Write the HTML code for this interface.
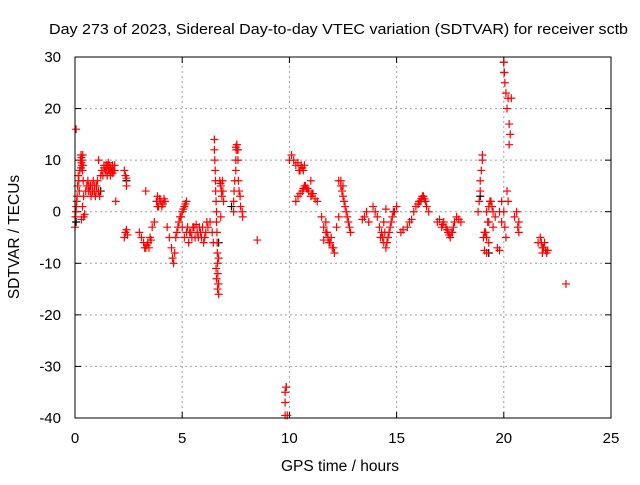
<!DOCTYPE html>
<html><head><meta charset="utf-8"><style>
body{margin:0;background:#fff}
svg text{font-family:"Liberation Sans",sans-serif;font-size:15px;fill:#000}
</style></head><body>
<svg id="chart" width="640" height="480" viewBox="0 0 640 480" xmlns="http://www.w3.org/2000/svg">
<rect width="640" height="480" fill="#fff"/>
<text x="49" y="34" textLength="579" lengthAdjust="spacingAndGlyphs">Day 273 of 2023, Sidereal Day-to-day VTEC variation (SDTVAR) for receiver sctb</text>
<text transform="translate(19,237) rotate(-90)" text-anchor="middle" style="font-size:15.5px">SDTVAR / TECUs</text>
<text x="340" y="471" text-anchor="middle" style="font-size:15.5px">GPS time / hours</text>
<g id="grid"></g>
<g id="ticks"></g>
<g id="marks"></g>
<rect x="75" y="57" width="536" height="361" fill="none" stroke="#000" stroke-width="1"/>
</svg>
<script>
const xTicks=[0,5,10,15,20,25];
const yTicks=[-40,-30,-20,-10,0,10,20,30];
const redX=[0,0.02,0.04,0.06,0.08,0.05,0.1,0.12,0.15,0.18,0.2,0.22,0.25,0.28,0.3,0.32,0.35,0.38,0.3,0.4,0.45,0.35,0.4,0.5,0.55,0.6,0.65,0.7,0.75,0.8,0.85,0.9,0.95,1.0,1.05,1.1,1.15,1.2,1.25,1.3,1.35,1.4,1.45,1.5,1.55,1.6,1.65,1.7,1.75,1.8,1.85,1.9,1.1,2.3,2.35,2.4,2.4,2.3,2.35,2.4,2.45,
3.0,3.1,3.2,3.3,3.4,3.5,3.6,3.7,3.3,3.8,3.85,3.9,4.0,4.1,4.2,
4.3,4.4,4.5,4.55,4.6,4.65,4.7,4.8,4.9,5.0,5.1,5.2,5.0,5.1,5.2,5.3,5.4,5.5,5.6,5.7,5.8,5.9,6.0,6.1,6.2,6.3,6.4,6.45,
6.5,6.5,6.52,6.54,6.55,6.56,6.58,6.6,6.6,6.62,6.63,6.64,6.65,6.66,6.68,6.7,6.75,6.8,6.85,6.9,6.8,6.7,
7.4,7.4,7.42,7.45,7.5,7.5,7.52,7.55,7.6,7.6,7.62,7.65,7.7,7.72,7.8,7.82,8.5,
9.8,9.8,9.85,9.9,9.8,
10.0,10.1,10.2,10.3,10.4,10.5,10.6,10.7,10.3,10.4,10.5,10.6,10.7,10.8,10.9,11.0,11.1,11.2,11.3,11.0,
11.5,11.6,11.7,11.8,11.9,12.0,12.1,11.6,11.7,12.3,12.4,12.5,12.6,12.7,12.8,12.85,12.2,12.3,
13.5,13.6,13.7,13.4,13.9,14.0,14.1,14.2,14.3,14.4,14.5,14.6,14.7,14.8,14.9,15.0,14.4,14.5,
15.2,15.3,15.5,15.6,15.7,15.8,15.9,16.0,16.1,16.2,16.3,16.4,16.5,
16.9,17.0,17.1,17.2,17.3,17.4,17.5,17.6,17.7,17.8,17.9,18.0,
18.8,18.85,18.9,18.9,18.95,19.0,19.0,19.1,19.2,19.3,19.1,19.2,19.3,19.2,19.3,19.4,19.5,19.6,19.5,
19.7,19.8,19.9,19.8,19.9,20.0,20.05,20.1,20.15,20.2,
20.0,20.02,20.05,20.1,20.15,20.2,20.25,20.3,20.25,20.35,
20.5,20.6,20.7,20.65,20.7,21.6,21.7,21.8,21.9,22.0,21.8,22.05,22.9,
0.3,0.33,0.36,0.28,0.38,1.35,1.45,1.55,1.65,1.75,1.85,1.5,1.6,0.62,0.72,0.82,0.92,1.02,
3.85,3.95,4.05,4.15,3.25,3.35,3.45,3.55,
5.25,5.35,5.45,5.55,5.65,5.75,5.85,5.95,6.05,6.15,4.75,4.85,4.95,5.05,5.15,
6.78,6.83,6.88,6.93,6.6,6.65,6.7,6.58,7.5,7.55,7.58,
10.45,10.55,10.65,10.65,10.75,10.85,11.05,11.75,11.85,11.95,12.05,
12.45,12.55,12.65,12.75,12.4,12.5,
14.25,14.35,14.45,14.55,14.65,14.75,14.85,16.05,16.15,16.25,16.35,
17.15,17.35,17.45,17.55,17.65,19.05,19.15,19.25,19.35,19.45,21.75,21.85,21.95];
const redY=[-3,-1,0,1,2,16,3,5,7,6,4,8,10,11,10.5,9,8,6,-1.5,-1,-0.5,1,3,4,5,6,5,4,3,5,6,4,3,5,6,4,3,7,8,7,9,8,9,7,8,9,7,8,9,8,9,2,10,8,7,5,6.5,-5,-4,-3.5,-4.5,
-4,-5,-6,-7,-6,-5,-3,-2,4,2,3,1,2,1.5,2,
-3,-5,-7,-9,-10,-8,-5,-3,-1,0,1,2,-3,-5,-4,-6,-4,-3,-5,-4,-3,-5,-6,-4,-3,-2,-4,-6,
14,12,10,8,6,4,2,0,-2,-4,-6,-8,-10,-12,-14,-16,6,5,3,4,-1,-9,
0,2,4,6,8,10,12,13,12,10,6,4,3,1,0,-1,-5.5,
-35,-37,-34,-39.5,-39.5,
10,11,10,9,9.5,8,8.5,9,2,3,3.5,4,5,4.5,4,3,3.5,2.5,2,6,
-1,-3,-4,-5,-6,-7,-8,-5.5,-2,6,5,3,1,-1,-3,-4,-3,-1,
-1,0,-2,-1.5,1,0,-1,-3,-4,-6,-7,-5,-3,-1,0,1,-2,0.5,
-4,-3.5,-3,-2,-1.5,0,1,1.5,2,3,2.5,1,0,
-2,-1.5,-3,-2,-3,-4,-5,-4,-2,-1,-1.5,-2,
0,2,4,6,8,10,11,-4,-5,-6,-7.5,-8,-2,0,1,2,0,-1,-3,
-7,-7.5,-2,0,2,0,-3,-5,4,2,
29,27,25,23,20,22,17,15,13,22,
-1,0,-2,-3,-4,-6,-5,-7,-6,-8,-8,-7.5,-14,
9.5,10,11,8.5,9,8.5,8,9.5,8.5,7.5,8,9,8,4,5,4,5,4,
1,2.5,1,2.5,-7,-6.5,-7,-5.5,
-3,-4,-5,-3,-2.5,-5,-4,-3,-5,-2,-4,-2,-1,0.5,1.5,
5.5,4,6,2,-13,-15,-14,-11,12.5,13,12,
8,9,8,4.5,5,4.5,3.5,-4,-6,-5,-7,
4,2,0,-2,6,5,
-5,-5,-4,-6,-4,-2,0,2,2.5,3,2,
-2.5,-3.5,-4.5,-4,-3,-5,-4,-2,2,1,-6,-7,-7.5];
const blackX=[2.4,1.2,7.3,20.0,20.02,6.7,9.85,18.9,19.3,0.05];
const blackY=[6,4,1,29,27,-6,-34,3,-8,-2];
const X0=75,X1=611,Y0=418,Y1=57;
const xs=v=>X0+(v-0)/(25-0)*(X1-X0);
const ys=v=>Y0-(v+40)/(70)*(Y0-Y1);
const NS='http://www.w3.org/2000/svg';
function mk(tag,attrs,parent){const e=document.createElementNS(NS,tag);for(const k in attrs)e.setAttribute(k,attrs[k]);parent.appendChild(e);return e;}
const grid=document.getElementById('grid'),ticks=document.getElementById('ticks'),marks=document.getElementById('marks');
xTicks.forEach(t=>{const x=xs(t);
 if(t>0&&t<25){const g=mk('line',{x1:x,x2:x,y1:Y0,y2:Y1,stroke:'#a0a0a0','stroke-dasharray':'2,3'},grid);
 
 }
 mk('line',{x1:x,x2:x,y1:Y0,y2:Y0-6,stroke:'#000'},ticks);mk('line',{x1:x,x2:x,y1:Y1,y2:Y1+6,stroke:'#000'},ticks);
 const l=mk('text',{x:x,y:443,'text-anchor':'middle'},ticks);l.textContent=t;
 
 });
yTicks.forEach(t=>{const y=ys(t);
 if(t>-40&&t<30){const g=mk('line',{x1:X0,x2:X1,y1:y,y2:y,stroke:'#a0a0a0','stroke-dasharray':'2,3'},grid);
 
 }
 mk('line',{x1:X0,x2:X0+6,y1:y,y2:y,stroke:'#000'},ticks);mk('line',{x1:X1,x2:X1-6,y1:y,y2:y,stroke:'#000'},ticks);
 const l=mk('text',{x:61,y:y+5,'text-anchor':'end'},ticks);l.textContent=t;
 
 });
function plus(x,y,c,name){const p=mk('path',{d:`M${x-4},${y}h8M${x},${y-4}v8`,stroke:c,'stroke-width':1.2,fill:'none'},marks);
 
 }
blackX.forEach((v,i)=>plus(xs(v),ys(blackY[i]),'#000','black-point'));
redX.forEach((v,i)=>plus(xs(v),ys(redY[i]),'#ff0000','red-point'));
</script>
</body></html>
